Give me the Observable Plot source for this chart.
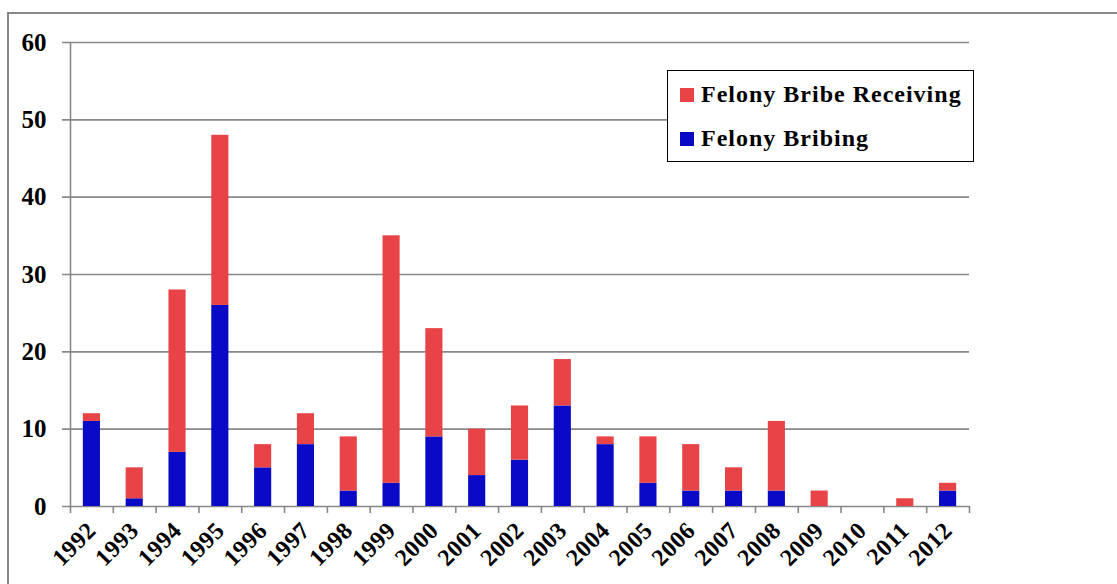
<!DOCTYPE html>
<html><head><meta charset="utf-8">
<script src="https://cdn.jsdelivr.net/npm/d3@7"></script>
<script src="https://cdn.jsdelivr.net/npm/@observablehq/plot@0.6"></script>
<style>
body{margin:0;background:#fff;}
#wrap{position:relative;width:1117px;height:584px;overflow:hidden;background:#fff;}
#frame{position:absolute;left:7px;top:12px;width:1200px;height:700px;border:2px solid #888;}
#chart{position:absolute;left:0;top:0;}
#chart g[aria-label="y-axis tick label"], #chart g[aria-label="y-axis tick label"] text{font-size:25px !important;}
#chart g[aria-label="x-axis tick label"], #chart g[aria-label="x-axis tick label"] text{font-size:24px !important;letter-spacing:0.5px;}
#legend{position:absolute;left:667px;top:70px;width:305px;height:90px;border:1.5px solid #000;background:#fff;font:bold 24px "Liberation Serif",serif;letter-spacing:1px;color:#000;}
.item{position:absolute;left:12px;display:flex;align-items:center;white-space:nowrap;}
.sw{width:14px;height:14px;margin-right:7px;}
</style>
</head><body>
<div id="wrap"><div id="frame"></div><div id="chart"></div>
<div id="legend"></div></div>
<script>
const years = ["1992","1993","1994","1995","1996","1997","1998","1999","2000","2001","2002","2003","2004","2005","2006","2007","2008","2009","2010","2011","2012"];
const bribing   = [11,1,7,26,5,8,2,3,9,4,6,13,8,3,2,2,2,0,0,0,2];
const receiving = [1,4,21,22,3,4,7,32,14,6,7,6,1,6,6,3,9,2,0,1,1];
const seriesNames = ["Felony Bribing","Felony Bribe Receiving"];
const seriesColors = ["#0a0ac6","#e84346"];
const yTicks = [0,10,20,30,40,50,60];

const data = [];
years.forEach((y,i)=>{
  data.push({year:y, series:seriesNames[0], value:bribing[i]});
  data.push({year:y, series:seriesNames[1], value:receiving[i]});
});

const W=1117,H=584,mL=70,mR=148,mT=42,mB=78;
const half=(W-mL-mR)/years.length/2;
const grid="#888";

const chart = Plot.plot({
  width:W,height:H,marginLeft:mL,marginRight:mR,marginTop:mT,marginBottom:mB,
  style:{fontFamily:'"Liberation Serif",serif',fontWeight:"bold",fontSize:"23px",color:"#000",background:"transparent",overflow:"visible"},
  x:{domain:years,paddingInner:0.6,paddingOuter:0.3,round:false,label:null},
  y:{domain:[0,60],label:null},
  color:{domain:seriesNames,range:seriesColors},
  marks:[
    Plot.ruleY(yTicks,{stroke:grid,strokeWidth:1.6,insetLeft:-8}),
    Plot.ruleX([years[0]],{dx:-half,stroke:grid,strokeWidth:1.6}),
    Plot.ruleX(years,{dx:-half,y1:0,y2:0,insetBottom:-7,stroke:grid,strokeWidth:1.6}),
    Plot.ruleX([years[years.length-1]],{dx:half,y1:0,y2:0,insetBottom:-7,stroke:grid,strokeWidth:1.6}),
    Plot.barY(data,{x:"year",y:"value",fill:"series"}),
    Plot.axisY({ticks:yTicks,tickSize:0,tickPadding:24,label:null}),
    Plot.axisX({tickSize:0,tickPadding:20,tickRotate:-45,label:null})
  ]
});
document.getElementById("chart").appendChild(chart);

const legend=document.getElementById("legend");
[[seriesNames[1],seriesColors[1],10],[seriesNames[0],seriesColors[0],54]].forEach(([n,c,t])=>{
  const d=document.createElement("div");d.className="item";d.style.top=t+"px";
  d.innerHTML=`<div class="sw" style="background:${c}"></div><span>${n}</span>`;
  legend.appendChild(d);
});
</script>
</body></html>
